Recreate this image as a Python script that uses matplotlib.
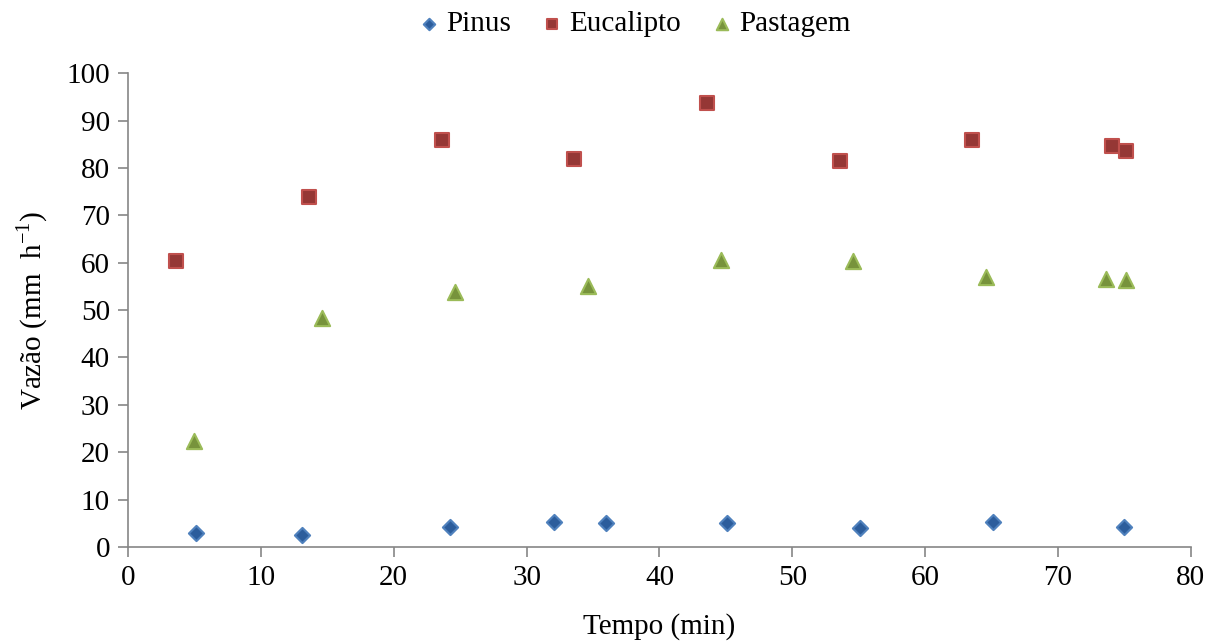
import matplotlib
matplotlib.use("Agg")
import matplotlib.pyplot as plt
from matplotlib.ticker import MultipleLocator

plt.rcParams['font.family'] = ['Liberation Serif', 'DejaVu Serif']

# Pinus
pinus_x = [5.1, 13.1, 24.2, 32.1, 36.0, 45.1, 55.1, 65.1, 75.0]
pinus_y = [2.95, 2.5, 4.2, 5.3, 5.1, 5.1, 4.0, 5.3, 4.2]

# Eucalipto
euc_x = [3.6, 13.6, 23.6, 33.6, 43.6, 53.6, 63.5, 74.1, 75.1]
euc_y = [60.4, 73.8, 85.8, 81.8, 93.7, 81.5, 85.8, 84.6, 83.5]

# Pastagem
pas_x = [5.0, 14.6, 24.6, 34.6, 44.6, 54.6, 64.6, 73.6, 75.1]
pas_y = [22.4, 48.3, 53.8, 55.1, 60.5, 60.3, 57.0, 56.5, 56.3]

fig = plt.figure(figsize=(12.09, 6.42), dpi=100)
ax = fig.add_axes([0.1059, 0.148, 0.8791, 0.738])

ax.scatter(pinus_x, pinus_y, marker='D', s=60, color='#2c5d9c',
           edgecolors='#4f81bd', linewidths=1.5, label='Pinus', zorder=3)
ax.scatter(euc_x, euc_y, marker='s', s=110, color='#953735',
           edgecolors='#c0504d', linewidths=1.5, label='Eucalipto', zorder=3)
ax.scatter(pas_x, pas_y, marker='^', s=120, color='#77933c',
           edgecolors='#9bbb59', linewidths=1.5, label='Pastagem', zorder=3)

ax.set_xlim(0, 80)
ax.set_ylim(0, 100)
ax.xaxis.set_major_locator(MultipleLocator(10))
ax.yaxis.set_major_locator(MultipleLocator(10))

for side in ['top', 'right']:
    ax.spines[side].set_visible(False)
for side in ['left', 'bottom']:
    ax.spines[side].set_color('#868686')
    ax.spines[side].set_linewidth(1.2)
ax.tick_params(direction='out', length=7, width=1.2, color='#868686',
               labelsize=21, pad=6)

ax.set_xlabel('Tempo (min)', fontsize=21, labelpad=16)
ax.set_ylabel('Vazão (mm  h$^{\\mathregular{-1}}$)', fontsize=21, labelpad=12)

ax.legend(loc='lower center', bbox_to_anchor=(0.476, 1.02), ncol=3,
          frameon=False, fontsize=21, handlelength=0.8, handletextpad=0.2,
          columnspacing=1.0, markerscale=0.75)

fig.savefig('out.png', dpi=100)
